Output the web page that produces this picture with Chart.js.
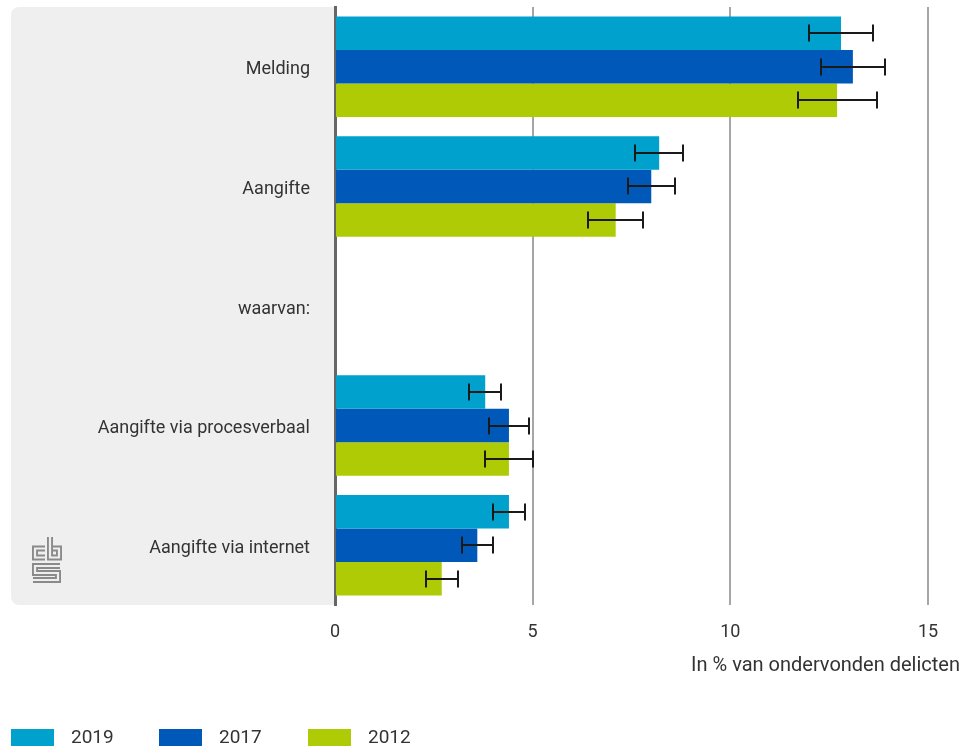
<!DOCTYPE html>
<html>
<head>
<meta charset="utf-8">
<script src="https://cdn.jsdelivr.net/npm/chart.js@4.4.1/dist/chart.umd.min.js"></script>
<style>
  html, body { margin: 0; padding: 0; background: #ffffff; }
  #wrap { width: 969px; height: 753px; position: relative; }
</style>
</head>
<body>
<div id="wrap"><canvas id="c" width="969" height="753"></canvas></div>
<script>
const categories = ['Melding', 'Aangifte', 'waarvan:', 'Aangifte via procesverbaal', 'Aangifte via internet'];
const seriesLabels = ['2019', '2017', '2012'];

const values2019 = [12.8, 8.2, null, 3.8, 4.4];
const low2019    = [12.0, 7.6, null, 3.4, 4.0];
const high2019   = [13.6, 8.8, null, 4.2, 4.8];

const values2017 = [13.1, 8.0, null, 4.4, 3.6];
const low2017    = [12.3, 7.4, null, 3.9, 3.2];
const high2017   = [13.9, 8.6, null, 4.9, 4.0];

const values2012 = [12.7, 7.1, null, 4.4, 2.7];
const low2012    = [11.7, 6.4, null, 3.8, 2.3];
const high2012   = [13.7, 7.8, null, 5.0, 3.1];

const xTicks = [0, 5, 10, 15];
const axisTitle = 'In % van ondervonden delicten';

const colors = ['#00a1cd', '#0058b8', '#afcb05'];
const FONT = 'Roboto, "Open Sans", sans-serif';
const TEXT = '#333333';

const lows = [low2019, low2017, low2012];
const highs = [high2019, high2017, high2012];

const panelPlugin = {
  id: 'panel',
  beforeDraw(chart) {
    const ctx = chart.ctx;
    const a = chart.chartArea;
    ctx.save();
    ctx.fillStyle = '#efefef';
    ctx.beginPath();
    ctx.roundRect(11, a.top, a.left - 11, a.bottom - a.top, [8, 0, 0, 8]);
    ctx.fill();
    // CBS logo (outlined maze letters)
    const paths = [
      [[45, 548.5], [35, 548.5], [35, 557.5], [45, 557.5]],
      [[50, 537], [50, 557.5], [59, 557.5], [59, 548.5], [53, 548.5]],
      [[60, 566], [35, 566], [35, 573], [58, 573], [58, 580], [33, 580]]
    ];
    for (const [w, c] of [[6, '#8a8a8a'], [2.2, '#efefef']]) {
      ctx.lineWidth = w;
      ctx.strokeStyle = c;
      ctx.lineJoin = 'miter';
      ctx.lineCap = 'butt';
      for (const p of paths) {
        ctx.beginPath();
        ctx.moveTo(p[0][0], p[0][1]);
        for (let i = 1; i < p.length; i++) ctx.lineTo(p[i][0], p[i][1]);
        ctx.stroke();
      }
    }
    ctx.restore();
  }
};

const errorPlugin = {
  id: 'errorbars',
  afterDatasetsDraw(chart) {
    const ctx = chart.ctx;
    const xs = chart.scales.x;
    ctx.save();
    ctx.strokeStyle = '#1a1a1a';
    ctx.lineWidth = 2;
    chart.data.datasets.forEach((ds, i) => {
      const meta = chart.getDatasetMeta(i);
      meta.data.forEach((el, j) => {
        const lo = lows[i][j], hi = highs[i][j];
        if (lo == null || hi == null) return;
        const x1 = Math.round(xs.getPixelForValue(lo));
        const x2 = Math.round(xs.getPixelForValue(hi));
        const y = Math.round(el.y);
        const h = 8.5;
        ctx.beginPath();
        ctx.moveTo(x1, y); ctx.lineTo(x2, y);
        ctx.moveTo(x1, y - h); ctx.lineTo(x1, y + h);
        ctx.moveTo(x2, y - h); ctx.lineTo(x2, y + h);
        ctx.stroke();
      });
    });
    ctx.restore();
  }
};

const textPlugin = {
  id: 'texts',
  afterDraw(chart) {
    const ctx = chart.ctx;
    ctx.save();
    ctx.font = '20px ' + FONT;
    ctx.fillStyle = TEXT;
    ctx.textBaseline = 'middle';
    ctx.textAlign = 'right';
    ctx.fillText(axisTitle, 960, 666);
    // legend
    const starts = [11, 159, 308];
    ctx.font = '19px ' + FONT;
    ctx.textAlign = 'left';
    chart.data.datasets.forEach((ds, i) => {
      const x = starts[i];
      ctx.fillStyle = ds.backgroundColor;
      ctx.fillRect(x, 729, 43, 17);
      ctx.fillStyle = TEXT;
      ctx.fillText(ds.label, x + 60, 738);
    });
    ctx.restore();
  }
};

new Chart(document.getElementById('c'), {
  type: 'bar',
  data: {
    labels: categories,
    datasets: [
      { label: seriesLabels[0], data: values2019, backgroundColor: colors[0] },
      { label: seriesLabels[1], data: values2017, backgroundColor: colors[1] },
      { label: seriesLabels[2], data: values2012, backgroundColor: colors[2] }
    ]
  },
  options: {
    indexAxis: 'y',
    responsive: false,
    animation: false,
    devicePixelRatio: 1,
    layout: { padding: { top: 7, right: 41, bottom: 0, left: 0 } },
    datasets: { bar: { categoryPercentage: 0.84, barPercentage: 1.0 } },
    plugins: { legend: { display: false }, tooltip: { enabled: false } },
    scales: {
      x: {
        min: 0, max: 15,
        afterBuildTicks(scale) { scale.ticks = xTicks.map(v => ({ value: v })); },
        afterFit(scale) {
          scale.height = 148;
          scale.paddingLeft = 0; scale.paddingRight = 0;
          scale.paddingTop = 0; scale.paddingBottom = 0;
        },
        grid: {
          drawTicks: false,
          color: ctx => (ctx.tick && ctx.tick.value === 0) ? 'rgba(0,0,0,0)' : '#a6a6a6',
          lineWidth: 2
        },
        border: { display: false },
        ticks: { font: { family: FONT, size: 18 }, color: TEXT, padding: 17 }
      },
      y: {
        afterFit(scale) {
          scale.width = 335;
          scale.paddingLeft = 0; scale.paddingRight = 0;
          scale.paddingTop = 0; scale.paddingBottom = 0;
        },
        grid: { display: false, drawTicks: false },
        border: { display: true, color: '#666666', width: 3 },
        ticks: { font: { family: FONT, size: 18 }, color: TEXT, padding: 25, autoSkip: false, labelOffset: 3 }
      }
    }
  },
  plugins: [panelPlugin, errorPlugin, textPlugin]
});
</script>
</body>
</html>
